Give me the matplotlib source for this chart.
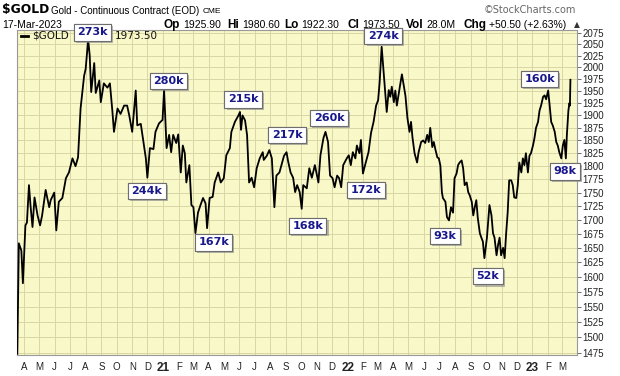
import pandas as pd
import matplotlib
matplotlib.use('Agg')
import matplotlib.pyplot as plt
import matplotlib.ticker as mticker
import matplotlib.patheffects as pe
from matplotlib.lines import Line2D

# closes (date, price)
dates_2020 = ['2020-03-19', '2020-03-22', '2020-03-27', '2020-03-30', '2020-04-04', '2020-04-07',
              '2020-04-11', '2020-04-14', '2020-04-18', '2020-04-22', '2020-04-28', '2020-05-03',
              '2020-05-07', '2020-05-14', '2020-05-21', '2020-05-24', '2020-05-31', '2020-06-04',
              '2020-06-09', '2020-06-16', '2020-06-23', '2020-06-29', '2020-07-06', '2020-07-12',
              '2020-07-17', '2020-07-22', '2020-07-29', '2020-08-01', '2020-08-06', '2020-08-09',
              '2020-08-12', '2020-08-18', '2020-08-21', '2020-08-28', '2020-08-31', '2020-09-06',
              '2020-09-13', '2020-09-18', '2020-09-23', '2020-09-26', '2020-10-03', '2020-10-09',
              '2020-10-16', '2020-10-22', '2020-10-26', '2020-11-01', '2020-11-08', '2020-11-11',
              '2020-11-18', '2020-11-22', '2020-11-28', '2020-12-01', '2020-12-06', '2020-12-13',
              '2020-12-17', '2020-12-24', '2020-12-31']
prices_2020 = [1474, 1658, 1645, 1589, 1690, 1695, 1764, 1727, 1687, 1741, 1708, 1690,
               1708, 1755, 1723, 1736, 1750, 1681, 1733, 1740, 1777, 1788, 1815, 1800,
               1817, 1914, 1982, 1996, 2059, 2026, 1948, 2009, 1946, 1972, 1927, 1966,
               1957, 1966, 1907, 1867, 1914, 1903, 1920, 1920, 1901, 1867, 1951, 1880,
               1883, 1855, 1815, 1778, 1835, 1833, 1867, 1884, 1891]

dates_2021 = ['2021-01-03', '2021-01-08', '2021-01-13', '2021-01-17', '2021-01-21', '2021-01-27',
              '2021-01-31', '2021-02-05', '2021-02-09', '2021-02-13', '2021-02-16', '2021-02-22',
              '2021-02-26', '2021-03-02', '2021-03-06', '2021-03-11', '2021-03-16', '2021-03-21',
              '2021-03-26', '2021-03-29', '2021-04-03', '2021-04-09', '2021-04-13', '2021-04-20',
              '2021-04-25', '2021-05-01', '2021-05-06', '2021-05-13', '2021-05-16', '2021-05-23',
              '2021-05-30', '2021-06-02', '2021-06-04', '2021-06-07', '2021-06-12', '2021-06-16',
              '2021-06-20', '2021-06-25', '2021-06-30', '2021-07-05', '2021-07-11', '2021-07-17',
              '2021-07-19', '2021-07-25', '2021-07-30', '2021-08-04', '2021-08-09', '2021-08-13',
              '2021-08-19', '2021-08-23', '2021-08-28', '2021-09-02', '2021-09-05', '2021-09-10',
              '2021-09-15', '2021-09-19', '2021-09-23', '2021-09-28', '2021-10-02', '2021-10-05',
              '2021-10-12', '2021-10-17', '2021-10-22', '2021-10-28', '2021-11-04', '2021-11-08',
              '2021-11-14', '2021-11-18', '2021-11-23', '2021-11-27', '2021-12-02', '2021-12-06',
              '2021-12-11', '2021-12-15', '2021-12-19', '2021-12-23', '2021-12-30']
prices_2021 = [1952, 1835, 1861, 1827, 1861, 1845, 1862, 1788, 1840, 1825, 1769, 1802,
               1727, 1723, 1676, 1713, 1727, 1740, 1730, 1685, 1740, 1742, 1769, 1788,
               1769, 1777, 1821, 1835, 1867, 1887, 1900, 1907, 1871, 1900, 1890, 1861,
               1769, 1778, 1760, 1796, 1815, 1827, 1812, 1820, 1831, 1815, 1723, 1782,
               1788, 1802, 1820, 1827, 1810, 1788, 1778, 1751, 1764, 1751, 1720, 1764,
               1758, 1796, 1778, 1802, 1769, 1821, 1855, 1867, 1847, 1782, 1777, 1760,
               1782, 1777, 1760, 1802, 1815]

dates_2022 = ['2022-01-03', '2022-01-07', '2022-01-11', '2022-01-16', '2022-01-19', '2022-01-24',
              '2022-01-27', '2022-01-31', '2022-02-05', '2022-02-11', '2022-02-16', '2022-02-21',
              '2022-02-26', '2022-03-02', '2022-03-05', '2022-03-09', '2022-03-13', '2022-03-16',
              '2022-03-19', '2022-03-23', '2022-03-26', '2022-03-29', '2022-04-02', '2022-04-05',
              '2022-04-08', '2022-04-11', '2022-04-15', '2022-04-18', '2022-04-21', '2022-04-25',
              '2022-04-29', '2022-05-03', '2022-05-06', '2022-05-09', '2022-05-13', '2022-05-18',
              '2022-05-21', '2022-05-26', '2022-05-30', '2022-06-03', '2022-06-07', '2022-06-10',
              '2022-06-13', '2022-06-17', '2022-06-20', '2022-06-23', '2022-06-27', '2022-06-30',
              '2022-07-03', '2022-07-06', '2022-07-08', '2022-07-13', '2022-07-16', '2022-07-20',
              '2022-07-24', '2022-07-28', '2022-07-31', '2022-08-04', '2022-08-07', '2022-08-10',
              '2022-08-14', '2022-08-17', '2022-08-20', '2022-08-24', '2022-08-27', '2022-08-30',
              '2022-09-03', '2022-09-06', '2022-09-09', '2022-09-12', '2022-09-15', '2022-09-19',
              '2022-09-22', '2022-09-25', '2022-09-28', '2022-10-03', '2022-10-08', '2022-10-12',
              '2022-10-15', '2022-10-18', '2022-10-22', '2022-10-25', '2022-10-28', '2022-10-31',
              '2022-11-04', '2022-11-07', '2022-11-10', '2022-11-13', '2022-11-16', '2022-11-20',
              '2022-11-23', '2022-11-26', '2022-11-30', '2022-12-03', '2022-12-06', '2022-12-10',
              '2022-12-13', '2022-12-16', '2022-12-19', '2022-12-23', '2022-12-26', '2022-12-29']
prices_2022 = [1821, 1802, 1827, 1815, 1840, 1825, 1851, 1786, 1805, 1827, 1865, 1887,
               1920, 1931, 1968, 2044, 1989, 1951, 1907, 1952, 1938, 1959, 1927, 1951,
               1920, 1940, 1966, 1985, 1966, 1940, 1894, 1867, 1887, 1855, 1825, 1807,
               1827, 1847, 1850, 1845, 1861, 1847, 1875, 1837, 1847, 1833, 1817, 1815,
               1801, 1751, 1740, 1733, 1705, 1699, 1723, 1713, 1777, 1786, 1802, 1807,
               1811, 1796, 1764, 1769, 1751, 1745, 1733, 1708, 1723, 1736, 1703, 1676,
               1668, 1661, 1632, 1668, 1727, 1708, 1676, 1668, 1637, 1655, 1668, 1637,
               1650, 1632, 1676, 1713, 1773, 1773, 1764, 1741, 1740, 1764, 1807, 1788,
               1815, 1802, 1825, 1788, 1820, 1825]

dates_2023 = ['2023-01-02', '2023-01-05', '2023-01-08', '2023-01-12', '2023-01-15', '2023-01-18',
              '2023-01-22', '2023-01-25', '2023-01-28', '2023-02-01', '2023-02-04', '2023-02-07',
              '2023-02-10', '2023-02-14', '2023-02-17', '2023-02-20', '2023-02-23', '2023-02-27',
              '2023-03-02', '2023-03-05', '2023-03-08', '2023-03-10', '2023-03-13', '2023-03-15',
              '2023-03-16', '2023-03-17']
prices_2023 = [1840, 1855, 1875, 1887, 1910, 1920, 1938, 1941, 1933, 1951, 1920, 1887,
               1880, 1867, 1847, 1840, 1827, 1815, 1840, 1851, 1815, 1861, 1910, 1925,
               1920, 1973.5]

# volume call-outs
note_labels = ['273k', '280k', '244k', '167k', '215k', '217k', '168k', '260k', '172k',
               '274k', '93k', '52k', '160k', '98k']
note_dates = ['2020-08-15', '2021-01-11', '2020-11-30', '2021-04-11', '2021-06-08', '2021-09-03',
              '2021-10-14', '2021-11-25', '2022-02-06', '2022-03-12', '2022-07-12', '2022-10-05',
              '2023-01-15', '2023-03-06']
note_prices = [2076, 1971, 1753, 1660, 1933, 1861, 1689, 1895, 1755, 2068, 1671, 1601, 1975, 1790]

price_ticks = list(range(1475, 2076, 25))
month_letters = 'JFMAMJJASOND'

W, H = 620, 376


def fx(x):
    return x / W


def fy(y):
    return 1 - y / H


dates = pd.to_datetime(dates_2020 + dates_2021 + dates_2022 + dates_2023)
prices = prices_2020 + prices_2021 + prices_2022 + prices_2023

fig = plt.figure(figsize=(W / 100, H / 100), dpi=100)
fig.patch.set_facecolor('white')
ax = fig.add_axes([fx(17), fy(355), 560 / W, 325 / H])
ax.set_facecolor('#F9F8C8')

ax.plot(dates, prices, color='black', lw=1.3, zorder=3)

ax.set_yscale('log')
ax.set_ylim(1472, 2081)
ax.set_xlim(pd.Timestamp('2020-03-18 09:00'), pd.Timestamp('2023-03-30'))

ax.yaxis.tick_right()
ax.set_yticks(price_ticks)
ax.set_yticklabels([str(p) for p in price_ticks])
ax.yaxis.set_minor_locator(mticker.NullLocator())
ax.yaxis.set_minor_formatter(mticker.NullFormatter())
ax.tick_params(axis='y', length=3, width=0.6, color='#555555', pad=1,
               labelsize=7, labelcolor='#222222')
for lbl in ax.get_yticklabels():
    lbl.set_family('Liberation Sans')

month_ticks = pd.date_range('2020-04-01', '2023-03-01', freq='MS')
month_names = [str(d.year % 100) if d.month == 1 else month_letters[d.month - 1]
               for d in month_ticks]
ax.set_xticks(month_ticks)
ax.set_xticklabels(month_names)
ax.tick_params(axis='x', length=0, pad=5, labelsize=7, labelcolor='#222222')
for lbl, d in zip(ax.get_xticklabels(), month_ticks):
    lbl.set_family('Liberation Sans')
    if d.month == 1:
        lbl.set_fontweight('bold')
        lbl.set_fontsize(8.5)

ax.grid(True, color='#D8D6A4', lw=0.7)
ax.set_axisbelow(True)
for s in ax.spines.values():
    s.set_color('#999999')
    s.set_linewidth(0.8)

# legend row inside the plot
fig.add_artist(Line2D([fx(21), fx(28)], [fy(36), fy(36)], transform=fig.transFigure,
                      color='black', lw=2))
fig.text(fx(32), fy(36), '$GOLD', fontsize=7.5, va='center', color='#111111')
fig.text(fx(115), fy(36), '1973.50', fontsize=7.5, va='center', color='#111111')

# volume boxes
for lab, d, p in zip(note_labels, note_dates, note_prices):
    t = ax.text(pd.Timestamp(d), p, lab, ha='center', va='center', fontsize=8,
                fontweight='bold', color='#18188C', zorder=6, clip_on=False,
                bbox=dict(boxstyle='square,pad=0.3', fc='white', ec='#6E6E6E', lw=0.8))
    t.get_bbox_patch().set_path_effects(
        [pe.withSimplePatchShadow(offset=(1.5, -1.5), shadow_rgbFace='#8C8C8C', alpha=0.6),
         pe.Normal()])

# header
fig.text(fx(2), fy(10), '$GOLD', fontsize=8.8, fontweight='bold', va='center')
fig.text(fx(51), fy(11), 'Gold - Continuous Contract (EOD)', fontsize=7,
         family='Liberation Sans', va='center')
fig.text(fx(203), fy(11.5), 'CME', fontsize=6, family='Liberation Sans', va='center')
fig.text(fx(576), fy(10), '\u00a9StockCharts.com', fontsize=7, color='#666666',
         ha='right', va='center')
fig.text(fx(2), fy(25), '17-Mar-2023', fontsize=7.5, family='Liberation Sans', va='center')

stats = [('Op', '1925.90', 164), ('Hi', '1980.60', 227), ('Lo', '1922.30', 284),
         ('Cl', '1973.50', 347), ('Vol', '28.0M', 406), ('Chg', '+50.50 (+2.63%)', 463)]
for key, val, xp in stats:
    k = fig.text(fx(xp), fy(25), key, fontsize=8.5, fontweight='bold',
                 family='Liberation Sans', va='center')
    fig.canvas.draw()
    bb = k.get_window_extent()
    fig.text(bb.x1 / W + fx(3), fy(25), val, fontsize=7.5, family='Liberation Sans',
             va='center')
fig.text(fx(574), fy(25), '\u25b2', fontsize=5.5, va='center', color='#333333')

fig.savefig('out.png', dpi=100)
